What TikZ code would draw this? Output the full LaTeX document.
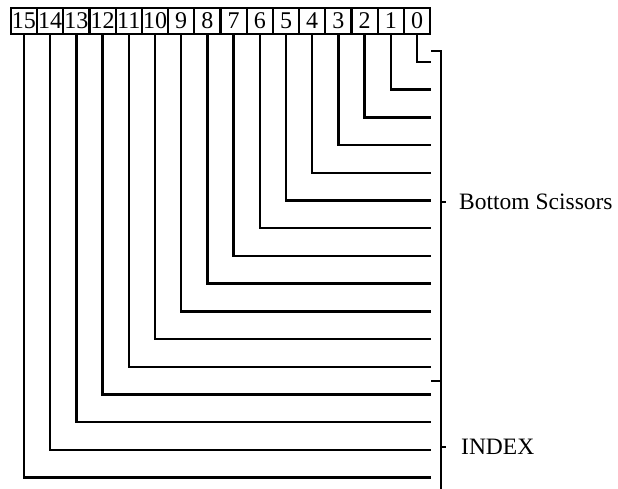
\documentclass[tikz,border=0pt]{standalone}
\usepackage{fontspec}
\setmainfont{Liberation Serif}
\usetikzlibrary{positioning}
\tikzset{
  regbox/.style={draw, line width=2.2pt, minimum width=26.2pt, minimum height=26pt,
    inner sep=0pt, font=\fontsize{24}{24}\selectfont},
  wire/.style={line width=2.4pt},
  lbl/.style={inner sep=0pt, anchor=west, font=\fontsize{23.5}{25}\selectfont}
}
\begin{document}
\begin{tikzpicture}[x=1pt, y=-1pt]
    \useasboundingbox (0,0) rectangle (618,489);
    % register bits and their wires
    \foreach \i in {0,...,15} {
        \node[regbox] (b\i) at ({417-26.2*\i},21) {\i};
        \coordinate (e\i) at (431,{62+27.7*\i});
        \draw[wire] (b\i.south) |- (e\i);
    }
    % brackets
    \coordinate (bt) at (441,51);
    \coordinate (bm) at (441,381);
    \coordinate (bb) at (441,489);
    \draw[wire] ([xshift=-10pt]bt) -- (bt) -- (bb);
    \draw[wire] ([xshift=-10pt]bm) -- (bm);
    \coordinate (ts) at (441,202);
    \coordinate (ti) at (441,447);
    \draw[wire] (ts) -- ++(5,0);
    \draw[wire] (ti) -- ++(5,0);
    \node[lbl, right=18pt of ts] (scis) {Bottom Scissors};
    \node[lbl, right=20pt of ti] (idx) {INDEX};
\end{tikzpicture}
\end{document}
